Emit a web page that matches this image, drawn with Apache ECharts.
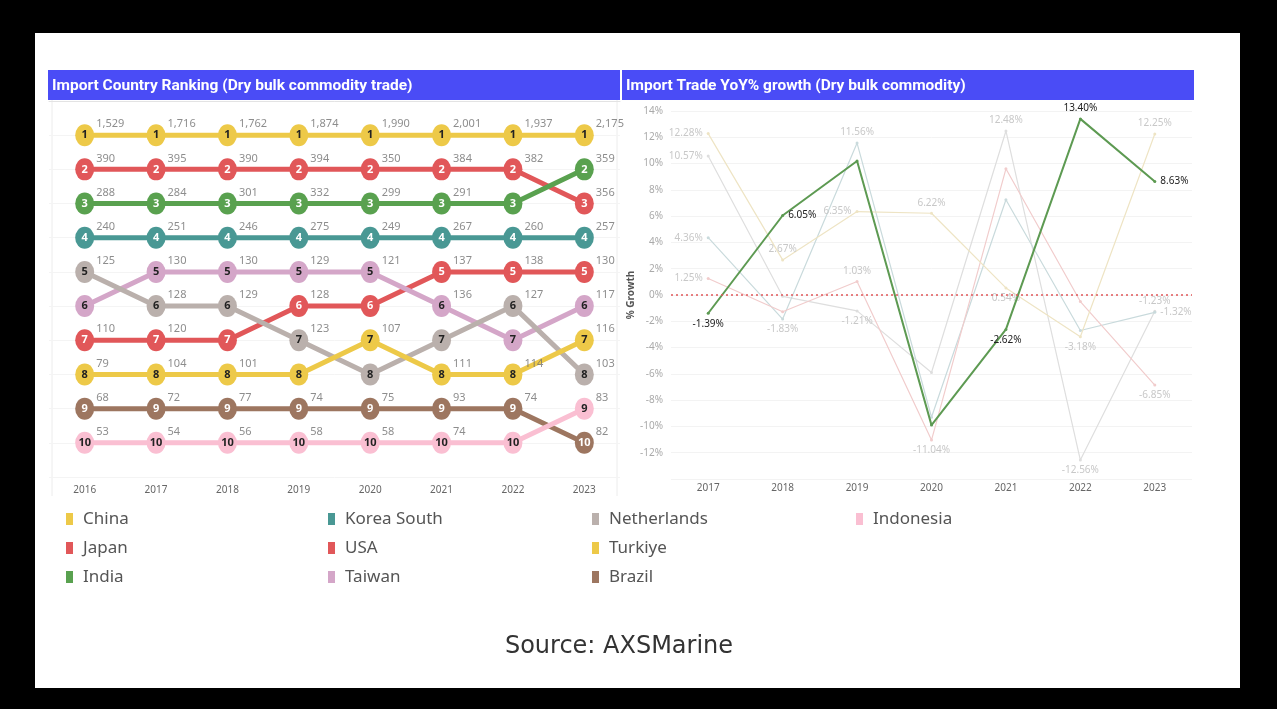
<!DOCTYPE html>
<html>
<head>
<meta charset="utf-8">
<title>Dry bulk import ranking</title>
<script src="https://cdn.jsdelivr.net/npm/echarts@6/dist/echarts.min.js"></script>
<style>
html,body{margin:0;padding:0;background:#000;}
#main{width:1277px;height:709px;}
</style>
</head>
<body>
<div id="main"></div>
<script>
var years = ['2016','2017','2018','2019','2020','2021','2022','2023'];
var yoyYears = ['2017','2018','2019','2020','2021','2022','2023'];
var countries = ['China','Japan','India','Korea South','USA','Taiwan','Netherlands','Turkiye','Brazil','Indonesia'];

// rank per year
var rankChina = [1,1,1,1,1,1,1,1];
var rankJapan = [2,2,2,2,2,2,2,3];
var rankIndia = [3,3,3,3,3,3,3,2];
var rankKorea = [4,4,4,4,4,4,4,4];
var rankUsa = [7,7,7,6,6,5,5,5];
var rankTaiwan = [6,5,5,5,5,6,7,6];
var rankNeth = [5,6,6,7,8,7,6,8];
var rankTurkiye = [8,8,8,8,7,8,8,7];
var rankBrazil = [9,9,9,9,9,9,9,10];
var rankIndonesia = [10,10,10,10,10,10,10,9];

// import volume shown next to the marker (null = label not shown)
var volChina = [1529,1716,1762,1874,1990,2001,1937,2175];
var volJapan = [390,395,390,394,350,384,382,356];
var volIndia = [288,284,301,332,299,291,null,359];
var volKorea = [240,251,246,275,249,267,260,257];
var volUsa = [110,120,null,128,null,137,138,130];
var volTaiwan = [null,130,130,129,121,136,null,117];
var volNeth = [125,128,129,123,null,null,127,103];
var volTurkiye = [79,104,101,null,107,111,114,116];
var volBrazil = [68,72,77,74,75,93,74,82];
var volIndonesia = [53,54,56,58,58,74,null,83];

// YoY growth %
var yoyChina = [12.28,2.67,6.35,6.22,0.54,-3.18,12.25];
var yoyJapan = [1.25,-1.27,1.03,-11.04,9.6,-0.5,-6.85];
var yoyIndia = [-1.39,6.05,10.2,-9.9,-2.62,13.40,8.63];
var yoyKorea = [4.36,-1.83,11.56,-9.3,7.25,-2.7,-1.32];
var yoyOther = [10.57,-0.1,-1.21,-5.9,12.48,-12.56,-1.23];
// points whose label is hidden
var hideChina = [];
var hideJapan = [1,4,5];
var hideIndia = [2,3];
var hideKorea = [3,4,5];
var hideOther = [1,3];

var ranks = [rankChina,rankJapan,rankIndia,rankKorea,rankUsa,rankTaiwan,rankNeth,rankTurkiye,rankBrazil,rankIndonesia];
var vols = [volChina,volJapan,volIndia,volKorea,volUsa,volTaiwan,volNeth,volTurkiye,volBrazil,volIndonesia];

var FONT = "'Noto Sans', sans-serif";
var TITLE_FONT = "Roboto, 'Noto Sans', sans-serif";
var rankColors = ['#EDC948','#E15759','#59A14F','#499894','#E15759','#D4A6C8','#BAB0AC','#EDC948','#9D7660','#FABFD2'];
var rankText = ['#222','#fff','#fff','#fff','#fff','#222','#222','#222','#fff','#222'];

var chart = echarts.init(document.getElementById('main'));
var series = [];

countries.forEach(function(name, k){
	series.push({
		name: name, type: 'line', xAxisIndex: 0, yAxisIndex: 0,
		data: ranks[k],
		symbol: 'circle', symbolSize: [19,22], showSymbol: true,
		lineStyle: {width: 5, color: rankColors[k]},
		itemStyle: {color: rankColors[k]},
		label: {show: true, position: 'inside', color: rankText[k], fontSize: 11, fontWeight: 'bold', fontFamily: FONT},
		emphasis: {disabled: true},
		z: 2
	});
	var pts = [];
	vols[k].forEach(function(v, i){
		if (v !== null) pts.push([i, ranks[k][i], v]);
	});
	series.push({
		type: 'scatter', xAxisIndex: 0, yAxisIndex: 0, data: pts,
		symbolSize: 1, itemStyle: {color: 'rgba(0,0,0,0)'},
		label: {show: true, position: 'right', distance: 11, offset: [0,-11], color: '#707070', fontSize: 11, fontFamily: FONT,
			formatter: function(p){ return p.value[2].toLocaleString('en-US'); }},
		silent: true, z: 3
	});
});

// label placement for the growth lines
var posChina = ['left','top','left','top','bottom','bottom','top'];
var posJapan = ['left','bottom','top','bottom','top','top','bottom'];
var posIndia = ['bottom','right','top','bottom','bottom','top','right'];
var posKorea = ['left','bottom','top','bottom','top','bottom','right'];
var posOther = ['left','top','bottom','bottom','top','bottom','top'];

function yoySeries(name, vals, hide, pos, color, lblColor, width, z){
	return {
		name: name, type: 'line', xAxisIndex: 1, yAxisIndex: 1,
		data: vals.map(function(v, i){
			return {value: v, label: {show: hide.indexOf(i) < 0, position: pos[i]}};
		}),
		symbol: 'circle', symbolSize: 3, showSymbol: true,
		lineStyle: {width: width, color: color},
		itemStyle: {color: color},
		label: {color: lblColor, fontSize: 10, fontFamily: FONT, distance: 4,
			formatter: function(p){ return p.value.toFixed(2) + '%'; }},
		emphasis: {disabled: true},
		z: z
	};
}
series.push(yoySeries('Other YoY', yoyOther, hideOther, posOther, '#dedede', '#c8c8c8', 1.2, 2));
series.push(yoySeries('Korea YoY', yoyKorea, hideKorea, posKorea, '#c9dadc', '#c8c8c8', 1.2, 2));
series.push(yoySeries('Japan YoY', yoyJapan, hideJapan, posJapan, '#f1cccc', '#c8c8c8', 1.2, 2));
series.push(yoySeries('China YoY', yoyChina, hideChina, posChina, '#eee4c4', '#c8c8c8', 1.2, 2));
var india = yoySeries('India YoY', yoyIndia, hideIndia, posIndia, '#5d9a52', '#222', 2, 4);
india.markLine = {
	silent: true, symbol: 'none', label: {show: false},
	lineStyle: {color: '#e15759', type: [2,3], width: 1.5},
	data: [{yAxis: 0}]
};
series.push(india);

function legendCol(left, names){
	return {
		orient: 'vertical', left: left, top: 509, padding: 0,
		itemWidth: 7, itemHeight: 12, itemGap: 9, icon: 'rect',
		selectedMode: false,
		textStyle: {fontSize: 17, lineHeight: 20, color: '#555', fontFamily: FONT, padding: [0,0,0,5]},
		data: names.map(function(n){
			return {name: n, itemStyle: {color: rankColors[countries.indexOf(n)]}};
		})
	};
}

option = {
	backgroundColor: '#000',
	animation: false,
	textStyle: {fontFamily: FONT},
	legend: [
		legendCol(66, ['China','Japan','India']),
		legendCol(328, ['Korea South','USA','Taiwan']),
		legendCol(592, ['Netherlands','Turkiye','Brazil']),
		legendCol(856, ['Indonesia'])
	],
	grid: [
		{left: 49, top: 101, width: 571, height: 376},
		{left: 671, top: 111, width: 521, height: 368}
	],
	xAxis: [
		{
			gridIndex: 0, type: 'category', data: years, boundaryGap: true,
			axisLine: {lineStyle: {color: '#e3e3e3'}}, axisTick: {show: false},
			axisLabel: {color: '#666', fontSize: 10, margin: 8}
		},
		{
			gridIndex: 1, type: 'category', data: yoyYears, boundaryGap: true,
			axisLine: {show: false}, axisTick: {show: false},
			axisLabel: {color: '#666', fontSize: 10, margin: 4}
		}
	],
	yAxis: [
		{
			gridIndex: 0, type: 'value', inverse: true, min: 0, max: 11, interval: 1,
			axisLine: {show: false}, axisTick: {show: false}, axisLabel: {show: false},
			splitLine: {lineStyle: {color: '#f4f4f4'}}
		},
		{
			gridIndex: 1, type: 'value', min: -14, max: 14, interval: 2,
			name: '% Growth', nameLocation: 'middle', nameGap: 28,
			nameTextStyle: {color: '#555', fontSize: 10, fontWeight: 'bold'},
			axisLine: {show: false}, axisTick: {show: false},
			axisLabel: {color: '#aaa', fontSize: 10, showMinLabel: false, formatter: '{value}%'},
			splitLine: {lineStyle: {color: '#f3f3f3'}}
		}
	],
	graphic: [
		{type: 'rect', z: -100, shape: {x: 35, y: 33, width: 1205, height: 655}, style: {fill: '#fff'}},
		{type: 'rect', z: 10, shape: {x: 48, y: 70, width: 572, height: 30}, style: {fill: '#4a4cf6'}},
		{type: 'rect', z: 10, shape: {x: 622, y: 70, width: 572, height: 30}, style: {fill: '#4a4cf6'}},
		{type: 'text', z: 11, x: 52, y: 86, style: {text: 'Import Country Ranking (Dry bulk commodity trade)', fill: '#fff', font: 'bold 15.5px ' + TITLE_FONT, textVerticalAlign: 'middle'}},
		{type: 'text', z: 11, x: 626, y: 86, style: {text: 'Import Trade YoY% growth (Dry bulk commodity)', fill: '#fff', font: 'bold 15.5px ' + TITLE_FONT, textVerticalAlign: 'middle'}},
		{type: 'line', z: -50, shape: {x1: 52, y1: 100, x2: 52, y2: 496}, style: {stroke: '#ececec', lineWidth: 1}},
		{type: 'line', z: -50, shape: {x1: 617, y1: 100, x2: 617, y2: 496}, style: {stroke: '#ececec', lineWidth: 1}},
		{type: 'text', z: 11, x: 619, y: 647, style: {text: 'Source: AXSMarine', fill: '#333', font: "24px 'DejaVu Sans', sans-serif", textAlign: 'center', textVerticalAlign: 'middle'}}
	],
	series: series
};
chart.setOption(option);
</script>
</body>
</html>
